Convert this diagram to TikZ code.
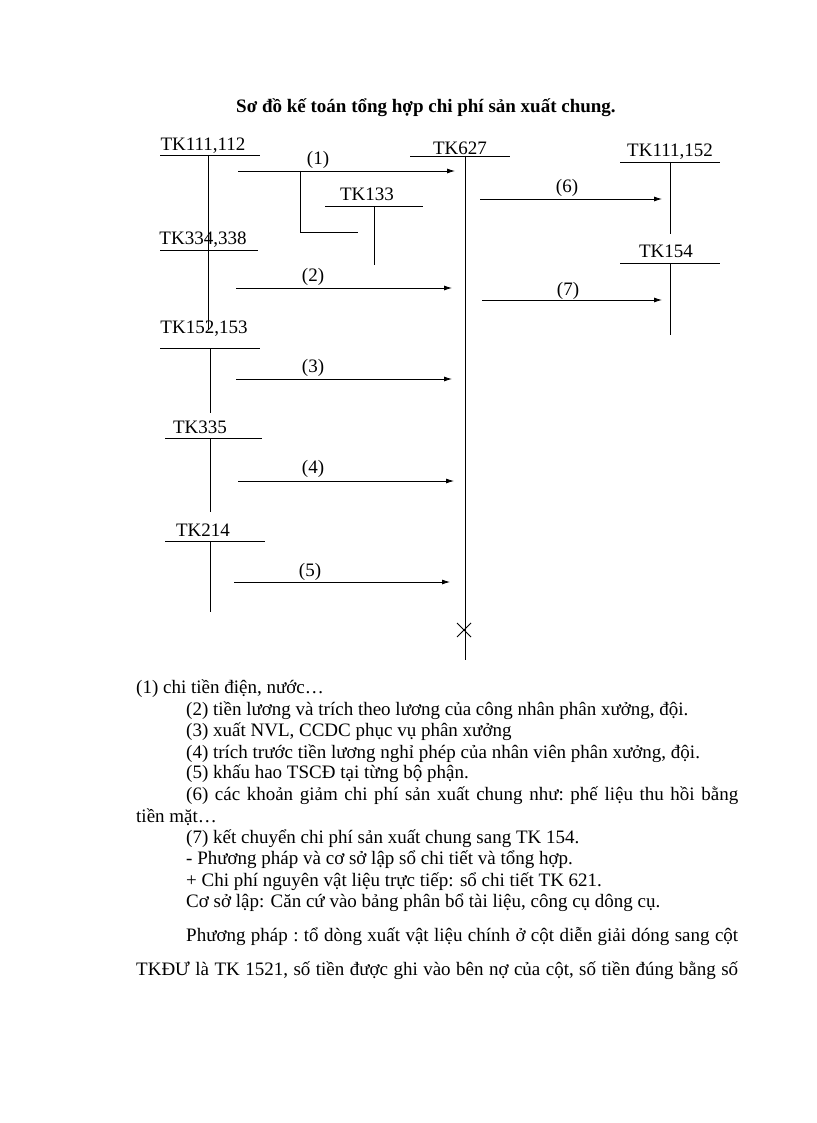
\documentclass[tikz,border=0pt]{standalone}
\usepackage{fontspec}
\setmainfont{Liberation Serif}
\usetikzlibrary{arrows.meta}
\begin{document}
\begin{tikzpicture}[x=1pt,y=-1pt,
  lbl/.style={font=\fontsize{19}{21}\selectfont,inner sep=0pt},
  txt/.style={font=\fontsize{19}{21}\selectfont,inner sep=0pt,anchor=base west},
  ln/.style={line width=0.8pt},
  arr/.style={line width=0.8pt,-{Latex[length=8pt,width=5pt]}}]
\useasboundingbox (0,0) rectangle (816,1123);
\node[lbl,font=\fontsize{19}{21}\selectfont\bfseries] (title) at (426,108) {Sơ đồ kế toán tổng hợp chi phí sản xuất chung.};
% left accounts
\node[lbl] (a1) at (203,146) {TK111,112};
\draw[ln] (160,155) -- (260,155); \draw[ln] (208,155) -- (208,330);
\node[lbl] (a2) at (203,240) {TK334,338};
\draw[ln] (160,250) -- (258,250);
\node[lbl] (a3) at (204,329) {TK152,153};
\draw[ln] (160,348) -- (260,348); \draw[ln] (210,348) -- (210,413);
\node[lbl] (a4) at (200,427) {TK335};
\draw[ln] (165,438) -- (262,438); \draw[ln] (210,438) -- (210,512);
\node[lbl] (a5) at (203,530) {TK214};
\draw[ln] (165,541) -- (265,541); \draw[ln] (210,541) -- (210,612);
% TK627
\node[lbl] (c) at (460,148) {TK627};
\draw[ln] (410,156) -- (510,156); \draw[ln] (465,156) -- (465,660);
\draw[ln] (457,623) -- (471,637) (457,637) -- (471,623);
% TK133
\node[lbl] (t133) at (367,194) {TK133};
\draw[ln] (325,206) -- (423,206); \draw[ln] (374,206) -- (374,265);
% right
\node[lbl] (r1) at (670,152) {TK111,152};
\draw[ln] (620,162) -- (720,162); \draw[ln] (670,162) -- (670,234);
\node[lbl] (r2) at (666,251) {TK154};
\draw[ln] (620,263) -- (720,263); \draw[ln] (670,263) -- (670,335);
% arrows
\draw[arr] (238,171) -- (455,171); \node[lbl] at (318,160) {(1)};
\draw[ln] (300,171) -- (300,232) -- (358,232);
\draw[arr] (236,288) -- (452,288); \node[lbl] at (313,277) {(2)};
\draw[arr] (236,379) -- (452,379); \node[lbl] at (313,368) {(3)};
\draw[arr] (238,481) -- (454,481); \node[lbl] at (313,469) {(4)};
\draw[arr] (234,582) -- (450,582); \node[lbl] at (310,572) {(5)};
\draw[arr] (480,199) -- (662,199); \node[lbl] at (567,188) {(6)};
\draw[arr] (482,300) -- (662,300); \node[lbl] at (568,291) {(7)};
% text
\node[txt] at (136,693) {(1) chi tiền điện, nước…};
\node[txt] at (186,715) {(2) tiền lương và trích theo lương của công nhân phân xưởng, đội.};
\node[txt] at (186,736) {(3) xuất NVL, CCDC phục vụ phân xưởng};
\node[txt] at (186,758) {(4) trích trước tiền lương nghỉ phép của nhân viên phân xưởng, đội.};
\node[txt] at (186,778) {(5) khấu hao TSCĐ tại từng bộ phận.};
\node[txt] at (186,800) {\hbox to 552pt{(6)\hfill các\hfill khoản\hfill giảm\hfill chi\hfill phí\hfill sản\hfill xuất\hfill chung\hfill như:\hfill phế\hfill liệu\hfill thu\hfill hồi\hfill bằng}};
\node[txt] at (136,822) {tiền mặt…};
\node[txt] at (186,843) {(7) kết chuyển chi phí sản xuất chung sang TK 154.};
\node[txt] at (186,864) {- Phương pháp và cơ sở lập sổ chi tiết và tổng hợp.};
\node[txt] at (186,886) {+ Chi phí nguyên vật liệu trực tiếp: sổ chi tiết TK 621.};
\node[txt] at (186,907) {Cơ sở lập: Căn cứ vào bảng phân bổ tài liệu, công cụ dông cụ.};
\node[txt] at (186,941) {\hbox to 552pt{Phương\hfill pháp\hfill :\hfill tổ\hfill dòng\hfill xuất\hfill vật\hfill liệu\hfill chính\hfill ở\hfill cột\hfill diễn\hfill giải\hfill dóng\hfill sang\hfill cột}};
\node[txt] at (136,975) {\hbox to 602pt{TKĐƯ\hfill là\hfill TK\hfill 1521,\hfill số\hfill tiền\hfill được\hfill ghi\hfill vào\hfill bên\hfill nợ\hfill của\hfill cột,\hfill số\hfill tiền\hfill đúng\hfill bằng\hfill số}};
\end{tikzpicture}
\end{document}
